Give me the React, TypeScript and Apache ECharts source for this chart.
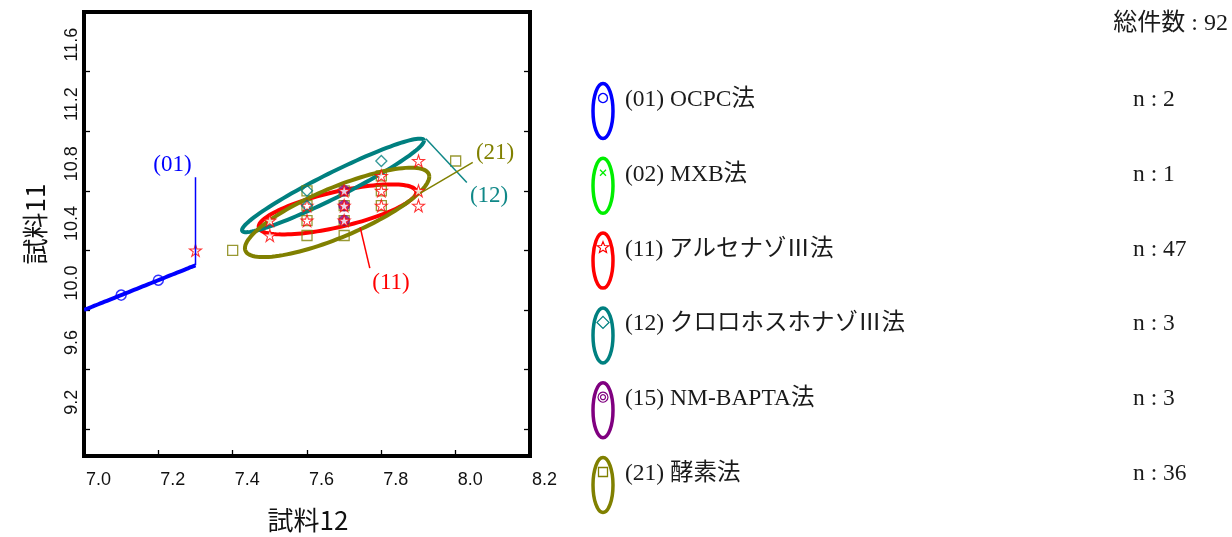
import React, { useEffect, useRef } from "react";
import * as echarts from "echarts";

// ---- data ----
const methodCodes = ["(01)", "(02)", "(11)", "(12)", "(15)", "(21)"];
const methodNames = ["OCPC法", "MXB法", "アルセナゾⅢ法", "クロロホスホナゾⅢ法", "NM-BAPTA法", "酵素法"];
const methodCounts = [2, 1, 47, 3, 3, 36];
const methodColors = ["#0000ff", "#00ee00", "#ff0000", "#008080", "#800080", "#808000"];
const totalLabel = "総件数 : 92";

const xName = "試料12";
const yName = "試料11";
const yTicks = [9.2, 9.6, 10.0, 10.4, 10.8, 11.2, 11.6];

// points: [試料12, 試料11]
const ocpcPoints = [[7.1, 10.1], [7.2, 10.2]];
const mxbPoints: number[][] = [];
const arsenazoPoints = [
  [7.3, 10.4], [7.5, 10.6], [7.5, 10.5], [7.6, 10.7], [7.6, 10.6],
  [7.7, 10.8], [7.7, 10.7], [7.7, 10.6], [7.8, 10.9], [7.8, 10.8],
  [7.8, 10.7], [7.9, 11.0], [7.9, 10.8], [7.9, 10.7],
];
const chloroPoints = [[7.6, 10.8], [7.6, 10.7], [7.8, 11.0]];
const nmBaptaPoints = [[7.7, 10.8], [7.7, 10.7], [7.7, 10.6]];
const enzymePoints = [
  [7.4, 10.4], [7.6, 10.8], [7.6, 10.7], [7.6, 10.6], [7.6, 10.5],
  [7.7, 10.8], [7.7, 10.7], [7.7, 10.6], [7.7, 10.5], [7.8, 10.9],
  [7.8, 10.8], [7.8, 10.7], [8.0, 11.0],
];

// ellipses: [centerX, centerY, sdX, sdY, r]
const ellipseParams = [
  [7.15, 10.15, 0.15, 0.15, 1.0],       // (01)
  [7.682, 10.675, 0.212, 0.168, 0.69],  // (11)
  [7.67, 10.836, 0.2448, 0.314, 0.955], // (12)
  [7.681, 10.655, 0.248, 0.3, 0.8],     // (21)
];
const ellipseColors = ["#0000ff", "#ff0000", "#008080", "#808000"];

// annotations (data coordinates)
const annotationLabels = ["(01)", "(11)", "(12)", "(21)"];
const annotationColors = ["#0000ff", "#ff0000", "#108888", "#808000"];
const leaderStart = [[7.3, 10.3], [7.743, 10.555], [7.92, 11.15], [7.904, 10.782]];
const leaderEnd = [[7.3, 10.891], [7.769, 10.281], [8.03, 10.856], [8.046, 10.991]];
const labelPos = [[7.238, 10.986], [7.826, 10.194], [8.09, 10.775], [8.106, 11.063]];

const SERIF = "'Liberation Serif', 'Noto Sans CJK JP', serif";
const SANS = "'Liberation Sans', Arial, sans-serif";
const JP = "'Noto Sans CJK JP', sans-serif";

const STAR_PATH =
  "path://M50,2 L61.2,36.2 L97.6,36.2 L68.2,57.6 L79.4,92 L50,70.8 L20.6,92 L31.8,57.6 L2.4,36.2 L38.8,36.2 Z";
const RINGS_PATH =
  "path://M0,50 A50,50 0 1,0 100,50 A50,50 0 1,0 0,50 Z M26,50 A24,24 0 1,0 74,50 A24,24 0 1,0 26,50 Z";

function starPoints(cx: number, cy: number, R: number, r: number) {
  const pts: number[][] = [];
  for (let i = 0; i < 10; i++) {
    const a = -Math.PI / 2 + (i * Math.PI) / 5;
    const rr = i % 2 === 0 ? R : r;
    pts.push([cx + rr * Math.cos(a), cy + rr * Math.sin(a)]);
  }
  return pts;
}

function legendMarker(i: number, cx: number, cy: number): any[] {
  const c = methodColors[i];
  switch (i) {
    case 0:
      return [{ type: "circle", shape: { cx, cy, r: 4.5 }, style: { fill: "none", stroke: c, lineWidth: 1.3 } }];
    case 1:
      return [
        { type: "line", shape: { x1: cx - 3, y1: cy - 3, x2: cx + 3, y2: cy + 3 }, style: { stroke: c, lineWidth: 1.3 } },
        { type: "line", shape: { x1: cx - 3, y1: cy + 3, x2: cx + 3, y2: cy - 3 }, style: { stroke: c, lineWidth: 1.3 } },
      ];
    case 2:
      return [{ type: "polygon", shape: { points: starPoints(cx, cy, 6, 2.6) }, style: { fill: "#fff", stroke: c, lineWidth: 1.2 } }];
    case 3:
      return [{ type: "polygon", shape: { points: [[cx, cy - 6], [cx + 6, cy], [cx, cy + 6], [cx - 6, cy]] }, style: { fill: "none", stroke: c, lineWidth: 1.3 } }];
    case 4:
      return [
        { type: "circle", shape: { cx, cy, r: 5 }, style: { fill: "none", stroke: c, lineWidth: 1.2 } },
        { type: "circle", shape: { cx, cy, r: 2.5 }, style: { fill: "none", stroke: c, lineWidth: 1.2 } },
      ];
    default:
      return [{ type: "rect", shape: { x: cx - 4.5, y: cy - 4.5, width: 9, height: 9 }, style: { fill: "none", stroke: c, lineWidth: 1.3 } }];
  }
}

export default function App() {
  const ref = useRef<HTMLDivElement>(null);
  useEffect(() => {
    if (!ref.current) return;
    const chart = echarts.init(ref.current, undefined, { renderer: "svg" });

    const legendGraphics: any[] = [];
    methodCodes.forEach((code, i) => {
      const cy = 111 + i * 74.8;
      legendGraphics.push({
        type: "ellipse",
        shape: { cx: 603, cy, rx: 10, ry: 27.5 },
        style: { fill: "none", stroke: methodColors[i], lineWidth: 3.5 },
      });
      legendMarker(i, 603, cy - 13).forEach((g) => legendGraphics.push(g));
      legendGraphics.push({
        type: "text",
        x: 625,
        y: cy - 13,
        style: { text: code + " " + methodNames[i], fontSize: 23.5, fontFamily: SERIF, fill: "#1a1a1a", align: "left", verticalAlign: "middle" },
      });
      legendGraphics.push({
        type: "text",
        x: 1133,
        y: cy - 13,
        style: { text: "n : " + methodCounts[i], fontSize: 23.5, fontFamily: SERIF, fill: "#1a1a1a", align: "left", verticalAlign: "middle" },
      });
    });

    const annotationData = leaderStart.map((p, i) => [p[0], p[1], leaderEnd[i][0], leaderEnd[i][1], labelPos[i][0], labelPos[i][1]]);

    const option: any = {
      animation: false,
      grid: {
        left: 84,
        top: 12,
        width: 446,
        height: 444,
        show: true,
        borderColor: "#000",
        borderWidth: 4,
        backgroundColor: "transparent",
      },
      xAxis: {
        type: "value",
        min: 7.0,
        max: 8.2,
        interval: 0.2,
        axisLine: { show: false },
        splitLine: { show: false },
        axisTick: { show: true, inside: true, length: 6, lineStyle: { color: "#000", width: 1.3 } },
        axisLabel: {
          show: true,
          margin: 14,
          align: "left",
          padding: [0, 0, 0, 2],
          fontSize: 18,
          fontFamily: SANS,
          color: "#111",
          hideOverlap: false,
          showMinLabel: true,
          showMaxLabel: true,
          formatter: (v: number) => v.toFixed(1),
        },
      },
      yAxis: [
        {
          type: "value",
          min: 9.02,
          max: 12.0,
          axisLine: { show: false },
          splitLine: { show: false },
          axisTick: { show: true, inside: true, length: 6, customValues: yTicks, lineStyle: { color: "#000", width: 1.3 } },
          axisLabel: {
            show: true,
            customValues: yTicks,
            rotate: 90,
            margin: 4,
            align: "center",
            verticalAlign: "bottom",
            padding: [0, 0, 0, 54],
            fontSize: 18,
            fontFamily: SANS,
            color: "#111",
            hideOverlap: false,
            formatter: (v: number) => v.toFixed(1),
          },
        },
        {
          type: "value",
          position: "right",
          min: 9.02,
          max: 12.0,
          axisLine: { show: false },
          splitLine: { show: false },
          axisTick: { show: true, inside: true, length: 6, customValues: yTicks, lineStyle: { color: "#000", width: 1.3 } },
          axisLabel: { show: false },
        },
      ],
      graphic: [
        {
          type: "text",
          x: 308,
          y: 518,
          style: { text: xName, fontSize: 26, fontFamily: JP, fill: "#111", align: "center", verticalAlign: "middle" },
        },
        {
          type: "text",
          x: 33,
          y: 224,
          rotation: Math.PI / 2,
          style: { text: yName, fontSize: 26, fontFamily: JP, fill: "#111", align: "center", verticalAlign: "middle" },
        },
        {
          type: "text",
          x: 1228,
          y: 22,
          style: { text: totalLabel, fontSize: 24, fontFamily: SERIF, fill: "#1a1a1a", align: "right", verticalAlign: "middle" },
        },
        ...legendGraphics,
      ],
      series: [
        {
          type: "custom",
          name: "ellipses",
          coordinateSystem: "cartesian2d",
          clip: true,
          z: 1,
          encode: { x: 0, y: 1 },
          data: ellipseParams,
          renderItem: (params: any, api: any) => {
            const cx = api.value(0);
            const cy = api.value(1);
            const sx = api.value(2);
            const sy = api.value(3);
            const r = api.value(4);
            const q = Math.sqrt(Math.max(0, 1 - r * r));
            const pts: number[][] = [];
            for (let k = 0; k <= 120; k++) {
              const t = (2 * Math.PI * k) / 120;
              pts.push(api.coord([cx + sx * Math.cos(t), cy + sy * (r * Math.cos(t) + q * Math.sin(t))]));
            }
            return {
              type: "polyline",
              shape: { points: pts },
              style: { fill: "none", stroke: ellipseColors[params.dataIndex], lineWidth: 4 },
            };
          },
        },
        {
          type: "custom",
          name: "annotations",
          coordinateSystem: "cartesian2d",
          clip: false,
          z: 6,
          encode: { x: [0, 2, 4], y: [1, 3, 5] },
          data: annotationData,
          renderItem: (params: any, api: any) => {
            const a = api.coord([api.value(0), api.value(1)]);
            const b = api.coord([api.value(2), api.value(3)]);
            const l = api.coord([api.value(4), api.value(5)]);
            const col = annotationColors[params.dataIndex];
            return {
              type: "group",
              children: [
                { type: "line", shape: { x1: a[0], y1: a[1], x2: b[0], y2: b[1] }, style: { stroke: col, lineWidth: 1.5 } },
                {
                  type: "text",
                  x: l[0],
                  y: l[1],
                  style: { text: annotationLabels[params.dataIndex], fontSize: 23, fontFamily: SERIF, fill: col, align: "center", verticalAlign: "middle" },
                },
              ],
            };
          },
        },
        {
          type: "scatter",
          name: "(21)",
          data: enzymePoints,
          symbol: "rect",
          symbolSize: 10,
          z: 2,
          itemStyle: { color: "rgba(255,255,255,0)", borderColor: "#808000", borderWidth: 1.3 },
        },
        {
          type: "scatter",
          name: "(15)",
          data: nmBaptaPoints,
          symbol: RINGS_PATH,
          symbolSize: 11,
          z: 3,
          itemStyle: { color: "#800080", borderColor: "#800080", borderWidth: 0.5 },
        },
        {
          type: "scatter",
          name: "(11)",
          data: arsenazoPoints,
          symbol: STAR_PATH,
          symbolSize: 12,
          z: 4,
          itemStyle: { color: "#ffffff", borderColor: "#ff0000", borderWidth: 1.1 },
        },
        {
          type: "scatter",
          name: "(12)",
          data: chloroPoints,
          symbol: "diamond",
          symbolSize: 11,
          z: 5,
          itemStyle: { color: "rgba(255,255,255,0)", borderColor: "#008080", borderWidth: 1.3 },
        },
        {
          type: "scatter",
          name: "(02)",
          data: mxbPoints,
          symbol: "path://M0,0 L10,10 M10,0 L0,10",
          symbolSize: 7,
          z: 5,
          itemStyle: { color: "none", borderColor: "#00ee00", borderWidth: 1.3 },
        },
        {
          type: "scatter",
          name: "(01)",
          data: ocpcPoints,
          symbol: "circle",
          symbolSize: 10,
          z: 5,
          itemStyle: { color: "rgba(255,255,255,0)", borderColor: "#0000ff", borderWidth: 1.5 },
        },
      ],
    };
    chart.setOption(option);
    return () => chart.dispose();
  }, []);

  return <div ref={ref} style={{ position: "fixed", left: 0, top: 0, width: 1232, height: 537 }} />;
}
